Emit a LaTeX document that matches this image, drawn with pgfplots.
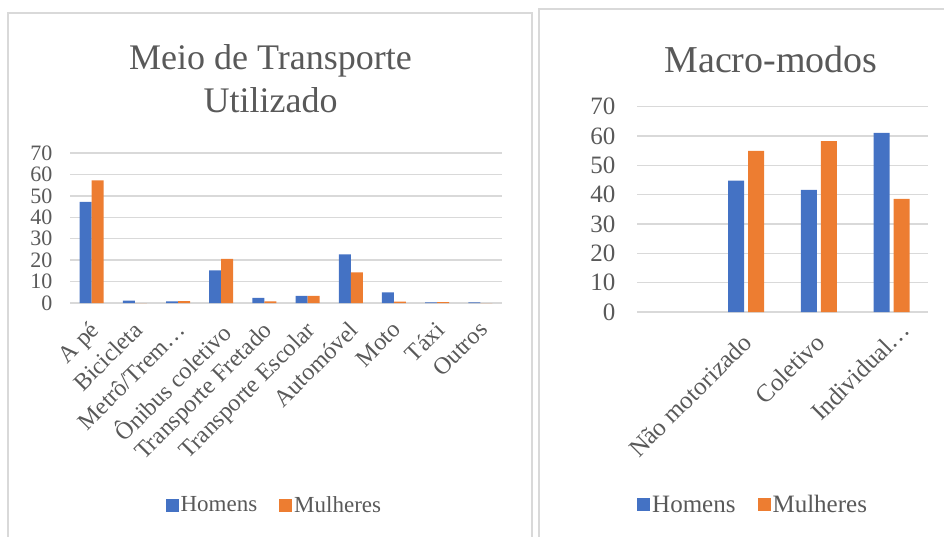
\documentclass[border=0pt]{standalone}
\usepackage{fontspec}
\setmainfont{Liberation Serif}
\usepackage{pgfplots}
\pgfplotsset{compat=1.18}
\definecolor{cblue}{HTML}{4472C4}
\definecolor{corange}{HTML}{ED7D31}
\definecolor{gridgray}{HTML}{D9D9D9}
\definecolor{textgray}{HTML}{595959}
\pgfplotsset{
  mybar/.style={
    ybar, scale only axis,
    ymin=0, ymax=70, ytick={0,10,...,70},
    ymajorgrids, grid style={gridgray, line width=1.5pt},
    axis line style={draw=none},
    major tick length=0pt,
    ticklabel style={text=textgray},
    /pgf/number format/assume math mode=true,
    legend columns=2,
    legend cell align=left,
  },
  sq/.style={legend image code/.code={\fill[##1,draw=none] (0pt,-6.5pt) rectangle (13pt,6.5pt);}},
}
\begin{document}
\begin{tikzpicture}[x=1pt,y=1pt]
\useasboundingbox (0,0) rectangle (944,536);
\draw[gridgray, line width=2pt] (8,-10) -- (8,523) -- (532,523) -- (532,-10);
\draw[gridgray, line width=2pt] (539,-10) -- (539,527) -- (960,527);
\node[anchor=base, font=\fontsize{36}{40}\selectfont, text=textgray, inner sep=0pt] at (270.5,466) {Meio de Transporte};
\node[anchor=base, font=\fontsize{36}{40}\selectfont, text=textgray, inner sep=0pt] at (270.5,423) {Utilizado};
\node[anchor=base, font=\fontsize{38}{42}\selectfont, text=textgray, inner sep=0pt] at (771,463) {Macro-modos};

\begin{axis}[mybar,
  at={(70pt,233pt)}, anchor=south west,
  width=432pt, height=150pt,
  xmin=-0.5, xmax=9.5,
  bar width=12pt, ybar=0pt,
  xtick={0,...,9},
  xticklabels={A pé, Bicicleta, Metrô/Trem…, Ônibus coletivo, Transporte Fretado, Transporte Escolar, Automóvel, Moto, Táxi, Outros},
  yticklabel style={font=\fontsize{22}{24}\selectfont, xshift=-14pt},
  xticklabel style={font=\fontsize{24}{27}\selectfont, xshift=-3pt, yshift=-14pt, rotate=45, anchor=north east, inner sep=2pt},
  legend style={at={(axis description cs:0.473,-1.347)}, anchor=center, draw=none, fill=none,
    font=\fontsize{23}{27}\selectfont, text=textgray,
    /tikz/every even column/.append style={column sep=20pt}},
]
\addplot[fill=cblue, draw=none, sq] coordinates {(0,47.2) (1,1.1) (2,0.8) (3,15.2) (4,2.4) (5,3.3) (6,22.7) (7,5.0) (8,0.3) (9,0.3)};
\addplot[fill=corange, draw=none, sq] coordinates {(0,57.2) (1,0) (2,0.9) (3,20.6) (4,0.8) (5,3.3) (6,14.3) (7,0.6) (8,0.4) (9,0)};
\legend{Homens, Mulheres}
\end{axis}

\begin{axis}[mybar,
  at={(637pt,224pt)}, anchor=south west,
  width=291pt, height=205.3pt,
  xmin=-0.5, xmax=3.5,
  bar width=16pt, ybar=4pt,
  xtick={1,2,3},
  xticklabels={Não motorizado, Coletivo, Individual…\kern-18pt},
  yticklabel style={font=\fontsize{25}{27}\selectfont, xshift=-18pt},
  xticklabel style={font=\fontsize{25}{28}\selectfont, xshift=-5pt, yshift=-17pt, rotate=45, anchor=north east, inner sep=2pt},
  legend style={at={(axis description cs:0.399,-0.94)}, anchor=center, draw=none, fill=none,
    font=\fontsize{25}{29}\selectfont, text=textgray,
    /tikz/every even column/.append style={column sep=20pt}},
]
\addplot[fill=cblue, draw=none, sq] coordinates {(1,44.8) (2,41.6) (3,61.1)};
\addplot[fill=corange, draw=none, sq] coordinates {(1,54.9) (2,58.3) (3,38.6)};
\legend{Homens, Mulheres}
\end{axis}
\end{tikzpicture}
\end{document}
